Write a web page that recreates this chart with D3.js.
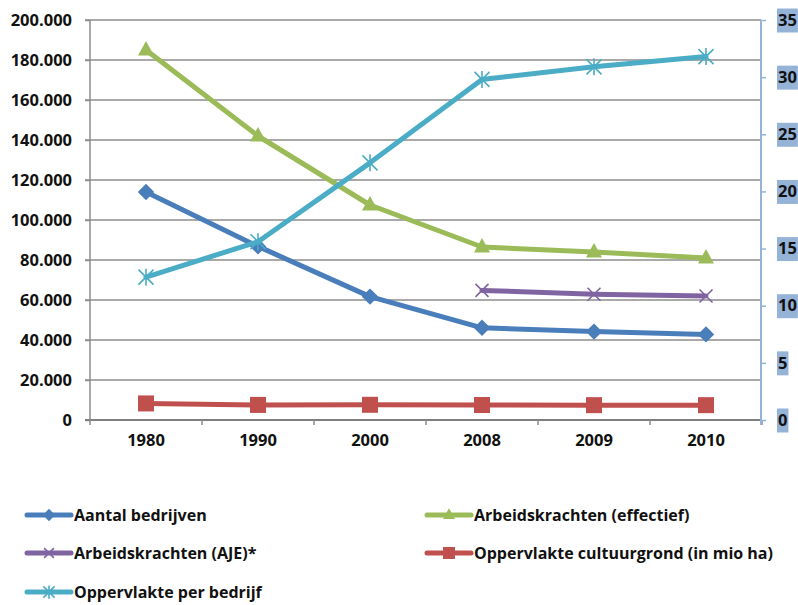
<!DOCTYPE html>
<html><head><meta charset="utf-8">
<script src="https://cdn.jsdelivr.net/npm/d3@7"></script>
<style>
html,body{margin:0;padding:0;background:#fff;}
svg{display:block;}
text{font-family:"Open Sans",Lato,sans-serif;font-weight:700;fill:#111;}
</style></head>
<body>
<svg id="chart" width="798" height="605"></svg>
<script>
const years = ["1980","1990","2000","2008","2009","2010"];
const leftTicks = [0,20000,40000,60000,80000,100000,120000,140000,160000,180000,200000];
const rightTicks = [0,5,10,15,20,25,30,35];
const aantalBedrijven = [114000, 86800, 61700, 46100, 44200, 42800];
const arbeidEffectief = [185000, 142000, 107500, 86500, 84000, 81000];
const arbeidAJE = [null, null, null, 64800, 62900, 62000];
const cultuurgrond = [1.45, 1.32, 1.33, 1.31, 1.30, 1.30];
const oppPerBedrijf = [12.5, 15.6, 22.5, 29.8, 30.9, 31.8];

const series = [
  {name:"Aantal bedrijven", values:aantalBedrijven, axis:"L", color:"#4A7EBB", marker:"diamond"},
  {name:"Arbeidskrachten (effectief)", values:arbeidEffectief, axis:"L", color:"#9BBB59", marker:"triangle"},
  {name:"Arbeidskrachten (AJE)*", values:arbeidAJE, axis:"L", color:"#8064A2", marker:"x"},
  {name:"Oppervlakte cultuurgrond (in mio ha)", values:cultuurgrond, axis:"R", color:"#C0504D", marker:"square"},
  {name:"Oppervlakte per bedrijf", values:oppPerBedrijf, axis:"R", color:"#4BACC6", marker:"star"}
];

const svg = d3.select("#chart");
const pL = 90, pR = 762, pT = 20, pB = 420;
const x = d3.scaleBand().domain(years).range([pL, pR]);
const yL = d3.scaleLinear().domain([0,200000]).range([pB, pT]);
const yR = d3.scaleLinear().domain([0,35]).range([pB, pT]);
const fmt = v => v === 0 ? "0" : d3.format(",")(v).replace(/,/g, ".");
const FONT = "Open Sans";

// gridlines
svg.append("g").selectAll("line").data(leftTicks.filter(d => d > 0)).join("line")
  .attr("x1", pL - 5).attr("x2", pR - 1)
  .attr("y1", d => yL(d)).attr("y2", d => yL(d))
  .attr("stroke", "#8C8C8C").attr("stroke-width", 1.5);

// left axis
const gL = svg.append("g").attr("transform", `translate(${pL},0)`)
  .call(d3.axisLeft(yL).tickValues(leftTicks).tickFormat(fmt).tickSize(5).tickPadding(13));
gL.select(".domain").attr("stroke", "#8C8C8C").attr("stroke-width", 1.5).attr("d", `M0,${pT}V${pB}`);
gL.selectAll(".tick line").attr("stroke", "#8C8C8C").attr("stroke-width", 1.5);
gL.selectAll("text").style("font-size", "16.5px").attr("fill", "#111").style("font-family", FONT).style("font-weight", "700");

// bottom axis
const gB = svg.append("g").attr("transform", `translate(0,${pB})`)
  .call(d3.axisBottom(x).tickSize(0).tickPadding(14));
gB.select(".domain").attr("stroke", "#7F7F7F").attr("stroke-width", 2).attr("d", `M${pL-5},0H${pR}`);
gB.selectAll("text").style("font-size", "16.5px").attr("fill", "#111").style("font-family", FONT).style("font-weight", "700");
svg.append("g").selectAll("line").data(d3.range(years.length + 1)).join("line")
  .attr("x1", i => pL + i * x.step()).attr("x2", i => pL + i * x.step())
  .attr("y1", pB).attr("y2", pB + 5)
  .attr("stroke", "#8C8C8C").attr("stroke-width", 1.5);

// right axis
const gR = svg.append("g").attr("transform", `translate(${pR-1},0)`)
  .call(d3.axisRight(yR).tickValues(rightTicks).tickSize(5).tickPadding(12));
gR.select(".domain").attr("stroke", "#95B3D7").attr("stroke-width", 2).attr("d", `M0,${pT}V${pB+5}`);
gR.selectAll(".tick line").attr("stroke", "#95B3D7").attr("stroke-width", 1.5);
gR.selectAll(".tick text").style("font-size", "16.5px").attr("fill", "#111").style("font-family", FONT).style("font-weight", "700");
gR.selectAll(".tick").each(function() {
  const t = d3.select(this).select("text");
  const w = t.node().getComputedTextLength();
  d3.select(this).insert("rect", "text").attr("x", 16).attr("y", -12).attr("width", w + 2).attr("height", 24).attr("fill", "#95B3D7");
});

// markers
function drawMarker(g, type, color, cx, cy, s) {
  if (type === "diamond") {
    g.append("path").attr("d", d3.symbol(d3.symbolSquare, s*s*0.6)()).attr("transform", `translate(${cx},${cy}) rotate(45)`).attr("fill", color);
  } else if (type === "triangle") {
    const h = s * 0.9;
    g.append("path").attr("d", `M${cx},${cy - h*0.62}L${cx + s/2},${cy + h*0.38}L${cx - s/2},${cy + h*0.38}Z`).attr("fill", color);
  } else if (type === "square") {
    g.append("rect").attr("x", cx - s/2).attr("y", cy - s/2).attr("width", s).attr("height", s).attr("fill", color);
  } else if (type === "x") {
    const r = s/2;
    g.append("path").attr("d", `M${cx-r},${cy-r}L${cx+r},${cy+r}M${cx-r},${cy+r}L${cx+r},${cy-r}`).attr("stroke", color).attr("stroke-width", 1.6);
  } else if (type === "star") {
    const r = s/2;
    g.append("path").attr("d", `M${cx-r},${cy-r}L${cx+r},${cy+r}M${cx-r},${cy+r}L${cx+r},${cy-r}M${cx},${cy-r-1}V${cy+r+1}`).attr("stroke", color).attr("stroke-width", 1.6);
  }
}

const markerSize = {diamond:15, triangle:16, square:16, x:13, star:15};

series.forEach(s => {
  const yS = s.axis === "L" ? yL : yR;
  const pts = years.map((yr, i) => ({yr, v: s.values[i]})).filter(d => d.v !== null);
  const line = d3.line().x(d => x(d.yr) + x.bandwidth()/2).y(d => yS(d.v));
  const g = svg.append("g");
  g.append("path").attr("d", line(pts)).attr("fill", "none").attr("stroke", s.color)
    .attr("stroke-width", 5).attr("stroke-linejoin", "round").attr("stroke-linecap", "round");
  pts.forEach(d => drawMarker(g, s.marker, s.color, x(d.yr) + x.bandwidth()/2, yS(d.v), markerSize[s.marker]));
});

// legend
const legendPos = [
  {x:27, y:515}, {x:427, y:515},
  {x:27, y:553}, {x:427, y:553},
  {x:27, y:592}
];
series.forEach((s, i) => {
  const p = legendPos[i];
  const g = svg.append("g");
  g.append("line").attr("x1", p.x).attr("x2", p.x + 44).attr("y1", p.y).attr("y2", p.y)
    .attr("stroke", s.color).attr("stroke-width", 5).attr("stroke-linecap", "round");
  drawMarker(g, s.marker, s.color, p.x + 22, p.y, markerSize[s.marker] * 0.75);
  g.append("text").attr("x", p.x + 47).attr("y", p.y).attr("dy", "0.35em")
    .style("font-size", "16px").style("font-family", FONT).text(s.name);
});
</script>
</body></html>
